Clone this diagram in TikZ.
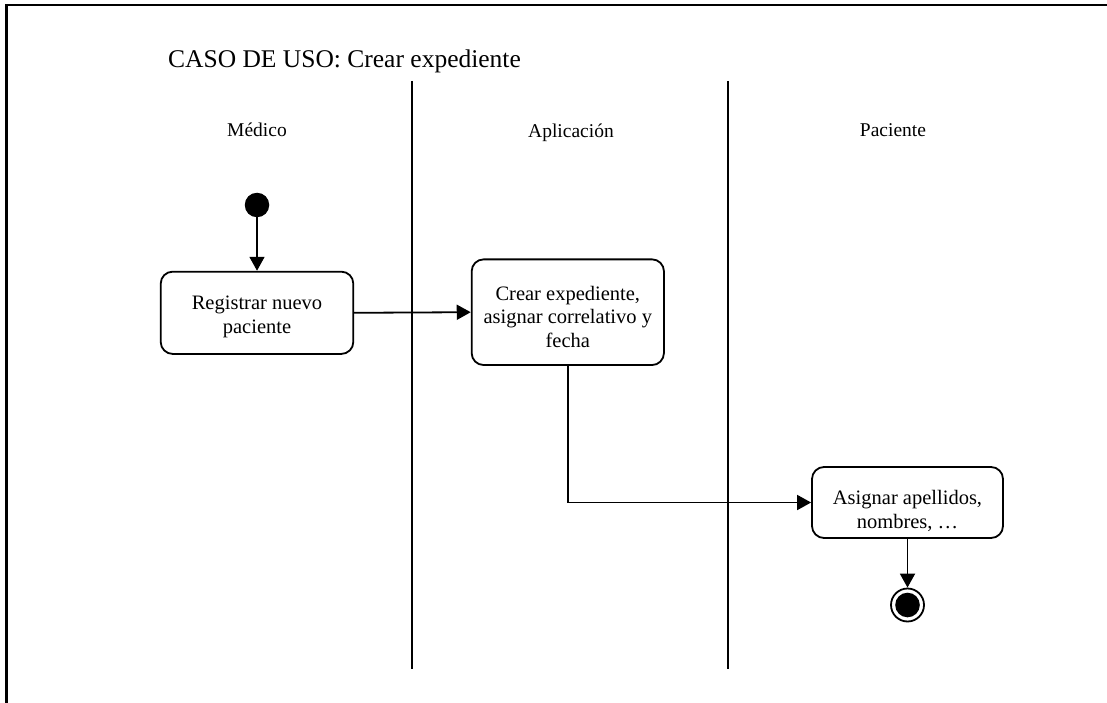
\documentclass[tikz,border=0pt]{standalone}
\usepackage{fontspec}
\setmainfont{Liberation Serif}
\usetikzlibrary{arrows.meta,calc}
\begin{document}
\begin{tikzpicture}[x=1pt,y=-1pt,
  frameline/.style={line width=2.6pt},
  lane/.style={line width=1.8pt},
  activity/.style={draw, line width=1.8pt, rounded corners=12pt, inner sep=0pt},
  acttext/.style={align=center, inner sep=0pt, font=\fontsize{20.5}{23.5}\selectfont},
  flow/.style={line width=1.8pt, -{Triangle[length=14pt,width=15pt]}},
  lanelabel/.style={anchor=base, font=\fontsize{19.5}{22}\selectfont},
  initial/.style={circle, fill=black, inner sep=0pt, minimum size=24.5pt},
  final/.style={circle, draw, line width=1.8pt, inner sep=0pt, minimum size=33pt,
    path picture={\fill (path picture bounding box.center) circle (12.3pt);}}]
\useasboundingbox (0,0) rectangle (1107,703);

% open frame: top and left edges
\coordinate (fTL) at (6.5,5);
\coordinate (fTR) at (1107,5);
\coordinate (fBL) at (6.5,703);
\draw[frameline] (fBL) -- (fTL) -- (fTR);

% title
\node[anchor=base west, inner sep=0pt, font=\fontsize{25.5}{29}\selectfont] (title) at (168,68)
  {CASO DE USO: Crear expediente};

% swimlane separators
\coordinate (l1t) at (412,81);  \coordinate (l1b) at (412,669);
\coordinate (l2t) at (728,81);  \coordinate (l2b) at (728,669);
\draw[lane] (l1t) -- (l1b);
\draw[lane] (l2t) -- (l2b);

% lane headings
\node[lanelabel] (medico) at (257,137) {Médico};
\node[lanelabel] (aplic) at (571,138) {Aplicación};
\node[lanelabel] (pac) at (893,137) {Paciente};

% activity boxes
\node[initial] (start) at (257,205) {};
\node[activity, minimum width=192.6pt, minimum height=82.3pt] (reg) at (257,312.8) {};
\node[activity, minimum width=192.3pt, minimum height=105.7pt] (crear) at (567.8,312.2) {};
\node[activity, minimum width=191pt, minimum height=71pt] (asig) at (907.5,502.5) {};
\node[final] (end) at (907.5,605) {};

% activity texts
\node[acttext] (regT) at ($(reg.center)+(0,4)$) {Registrar nuevo\\paciente};
\node[acttext] (crearT) at ($(crear.center)+(0,4.5)$) {Crear expediente,\\asignar correlativo y\\fecha};
\node[acttext] (asigT) at ($(asig.center)+(0,8.5)$) {Asignar apellidos,\\nombres, …};

% transitions
\draw[flow] (start) -- (reg);
\draw[flow] (reg.east) -- (crear.west);
\draw[flow] (crear.south) |- (asig.west);
\draw[flow] (asig.south) -- (end.north);
\end{tikzpicture}
\end{document}
